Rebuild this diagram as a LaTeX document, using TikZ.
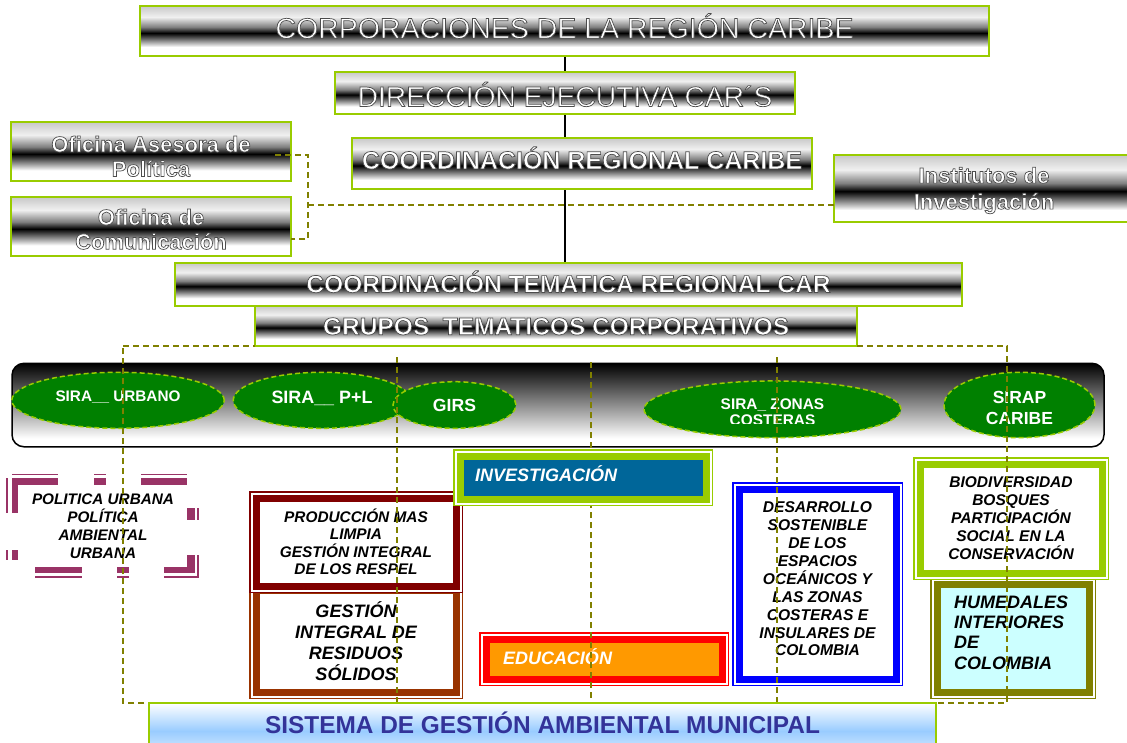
\documentclass[tikz,border=0pt]{standalone}
\usepackage{fontspec}
\setmainfont{Liberation Sans}
\usetikzlibrary{shapes.geometric,calc,backgrounds}
\definecolor{lg}{HTML}{99CC00}
\definecolor{olv}{HTML}{808000}
\definecolor{dred}{HTML}{800000}
\definecolor{brn}{HTML}{993300}
\definecolor{invb}{HTML}{006699}
\definecolor{orng}{HTML}{FF9900}
\definecolor{pnk}{HTML}{993366}
\definecolor{cyl}{HTML}{CCFFFF}
\definecolor{sblue}{HTML}{99CCFF}
\definecolor{sbl2}{HTML}{D6EAFF}
\definecolor{stxt}{HTML}{333399}
\definecolor{eg}{HTML}{008000}
\definecolor{mtop}{HTML}{C8C8C8}
\definecolor{mlight}{HTML}{F0F0F0}
\definecolor{pblue}{HTML}{0000FF}
\definecolor{pred}{HTML}{FF0000}
\pgfdeclareverticalshading{metal}{100bp}{color(0bp)=(white); color(25bp)=(white); color(34bp)=(white); color(48bp)=(black); color(54bp)=(gray); color(64bp)=(mlight); color(75bp)=(mtop); color(100bp)=(mtop)}
\pgfdeclareverticalshading{bandsh}{100bp}{color(0bp)=(white); color(30bp)=(white); color(75bp)=(black); color(100bp)=(black)}
\pgfdeclareverticalshading{sistsh}{100bp}{color(0bp)=(sbl2); color(25bp)=(sbl2); color(47bp)=(sblue); color(75bp)=(white); color(100bp)=(white)}
\newcommand\fs[2]{\fontsize{#1}{#2}\selectfont}
\newcommand\olt[1]{\special{pdf:literal direct 2 Tr 0.7 w 0.3 0.3 0.3 RG}#1\special{pdf:literal direct 0 Tr 1 1 1 RG}}
\begin{document}
\begin{tikzpicture}[x=1pt,y=-1pt,
  mbox/.style={draw=lg, line width=1.8pt, shading=metal, inner sep=0pt, outer sep=0pt, anchor=north west, text=white},
  ttl/.style={text=white, align=center, inner sep=0pt, anchor=center},
  ell/.style={ellipse, fill=eg, draw=lg, line width=1.5pt, dash pattern=on 5pt off 3pt, inner sep=0pt, text=white},
  dframe/.style 2 args={preaction={draw=#1, line width=14pt}, preaction={draw=white, line width=11pt}, draw=#1, line width=7pt, fill=#2, inner sep=0pt, outer sep=0pt, anchor=north west},
  dsh/.style={draw=olv, line width=1.5pt, dash pattern=on 6pt off 4pt},
  vline/.style={draw=black, line width=1.5pt},
]
\useasboundingbox (0,0) rectangle (1127,742);

% ---------- top hierarchy ----------
\node[mbox, minimum width=849pt, minimum height=50pt, font=\fs{28.5}{34}, text height=14.4pt, text depth=0pt] (corp) at (140,6) {\olt{CORPORACIONES DE LA REGIÓN CARIBE}};
\node[mbox, minimum width=460pt, minimum height=42pt, font=\fs{28.2}{34}, text height=26.8pt, text depth=0pt] (dir) at (335,72) {\olt{DIRECCIÓN EJECUTIVA CAR´S}};
\node[mbox, minimum width=460pt, minimum height=51pt, font=\bfseries\fs{25}{30}, text height=10.8pt, text depth=0pt] (crc) at (352,138) {\olt{COORDINACIÓN REGIONAL CARIBE}};

\node[mbox, minimum width=280pt, minimum height=59pt] (ofa) at (11,122) {};
\node[ttl, font=\bfseries\fs{22}{24.5}, yshift=-4.8pt] (ofat) at (ofa.center) {\olt{Oficina Asesora de\\Política}};
\node[mbox, minimum width=280pt, minimum height=59pt] (ofc) at (11,197) {};
\node[ttl, font=\bfseries\fs{22}{24.3}, yshift=-2.7pt] (ofct) at (ofc.center) {\olt{Oficina de\\Comunicación}};
\node[mbox, minimum width=300pt, minimum height=67pt] (ins) at (834,155) {};
\node[ttl, font=\bfseries\fs{22}{26}, yshift=-2pt] (inst) at (ins.center) {\olt{Institutos de\\Investigación}};

\node[mbox, minimum width=787pt, minimum height=43pt, font=\bfseries\fs{24.6}{30}, text height=16.1pt, text depth=0pt] (ctr) at (175,263) {\olt{COORDINACIÓN TEMATICA REGIONAL CAR}};
\node[mbox, minimum width=602pt, minimum height=40pt, font=\bfseries\fs{24.5}{30}, text height=17.6pt, text depth=0pt] (gtc) at (255,306) {\olt{GRUPOS \ TEMATICOS CORPORATIVOS}};

\coordinate (vx) at (565,0);
\begin{scope}[on background layer]
  \draw[vline] (corp.south -| vx) -- (ctr.north -| vx);
\end{scope}

\coordinate (j1) at (308,155);
\coordinate (j2) at (308,205);
\draw[dsh] ($(ofa.east)+(-16,3.5)$) -- (j1) |- ($(ofc.east)+(0,12.5)$);
\draw[dsh] (j2) -- (j2 -| ins.west);

% ---------- band with groups ----------
\node[draw=black, line width=1.5pt, rounded corners=12pt, shading=bandsh, minimum width=1092pt, minimum height=83.5pt, anchor=north west, inner sep=0pt, outer sep=0pt] (band) at (12,363.3) {};

\node[ell, minimum width=212.5pt, minimum height=56pt, font=\bfseries\fs{15.3}{18}, text height=2pt, text depth=0pt] (urb) at (118,400.3) {SIRA\_\_ URBANO};
\node[ell, minimum width=177.5pt, minimum height=56pt, font=\bfseries\fs{17.9}{20}, text height=5.6pt, text depth=0pt] (pl) at (322,400.3) {SIRA\_\_ P+L};
\node[ell, minimum width=123pt, minimum height=46.6pt, font=\bfseries\fs{17.6}{20}, text height=12.4pt, text depth=0pt] (girs) at (454.5,405) {GIRS};
\node[ell, minimum width=257pt, minimum height=56.7pt] (zon) at (772.5,409.3) {};
\begin{scope}
  \clip (640,375) rectangle (905,423.5);
  \node[ttl, font=\bfseries\fs{15.4}{16.8}, yshift=-2.8pt] (zont) at (zon.center) {SIRA\_ ZONAS\\COSTERAS};
\end{scope}
\node[ell, minimum width=151pt, minimum height=65.4pt] (sirap) at (1019.5,405) {};
\node[ttl, font=\bfseries\fs{17.5}{20.5}, yshift=-3pt] (sirapt) at (sirap.center) {SIRAP\\CARIBE};

% ---------- politica urbana frame ----------
\begin{scope}[fill=pnk]
  \fill (12,473.7) rectangle (58,475.3);  \fill (94,473.7) rectangle (106,475.3);  \fill (141,473.7) rectangle (187,475.3);
  \fill (16,478.3) rectangle (58,485);    \fill (94,478.3) rectangle (106,485);    \fill (141,478.3) rectangle (187,485);
  \fill (187,508) rectangle (195,520);    \fill (187,555) rectangle (195,573.3);
  \fill (197.4,508) rectangle (199,520);  \fill (197.4,555) rectangle (199,577.6);
  \fill (35,566.7) rectangle (82,573.3);  \fill (117,566.7) rectangle (129,573.3); \fill (164,566.7) rectangle (195,573.3);
  \fill (35,576) rectangle (82,577.6);    \fill (117,576) rectangle (129,577.6);   \fill (164,576) rectangle (199,577.6);
  \fill (11.7,478) rectangle (18.3,513);  \fill (11.7,550) rectangle (18.3,560);
  \fill (6,478) rectangle (7.6,513);      \fill (6,550) rectangle (7.6,560);
\end{scope}
\node[align=center, inner sep=0pt, font=\bfseries\itshape\fs{15.3}{18}] (pol) at (103,526.3) {POLITICA URBANA\\POLÍTICA\\AMBIENTAL\\URBANA};

% ---------- themes ----------
\node[dframe={brn}{white}, minimum width=200pt, minimum height=102pt, font=\bfseries\itshape\fs{18}{21.2}, align=center] (gest) at (256,590) {GESTIÓN\\INTEGRAL DE\\RESIDUOS\\SÓLIDOS};
\node[dframe={dred}{white}, minimum width=200pt, minimum height=88pt, font=\bfseries\itshape\fs{15.4}{17.5}, align=center] (prod) at (256,498) {PRODUCCIÓN MAS\\LIMPIA\\GESTIÓN INTEGRAL\\DE LOS RESPEL};
\node[dframe={pred}{orng}, minimum width=236pt, minimum height=40pt, font=\bfseries\itshape\fs{18}{21}, text=white, align=left, text width=202pt, inner xsep=17pt, text height=11.5pt, text depth=0pt] (edu) at (486,639) {EDUCACIÓN};
\node[dframe={pblue}{white}, minimum width=157pt, minimum height=190pt] (des) at (739,489) {};
\node[align=center, inner sep=0pt, font=\bfseries\itshape\fs{15.6}{17.9}, yshift=5pt] (dest) at (des.center) {DESARROLLO\\SOSTENIBLE\\DE LOS\\ESPACIOS\\OCEÁNICOS Y\\LAS ZONAS\\COSTERAS E\\INSULARES DE\\COLOMBIA};
\node[dframe={olv}{cyl}, minimum width=152pt, minimum height=108pt] (hum) at (937,584) {};
\node[align=left, anchor=west, inner sep=0pt, font=\bfseries\itshape\fs{18}{20.3}, yshift=5.5pt] (humt) at ($(hum.west)+(17,0)$) {HUMEDALES\\INTERIORES\\DE\\COLOMBIA};
\node[dframe={lg}{white}, minimum width=182pt, minimum height=109pt, font=\bfseries\itshape\fs{15.5}{18}, align=center] (bio) at (920,464) {BIODIVERSIDAD\\BOSQUES\\PARTICIPACIÓN\\SOCIAL EN LA\\CONSERVACIÓN};

% ---------- dashed grouping lines ----------
\coordinate (dTL) at (123,346);
\coordinate (dTR) at (1007,346);
\coordinate (dBL) at (123,703);
\coordinate (dBR) at (1007,703);
\draw[dsh] (dTL) -- (gtc.south west);
\draw[dsh] (gtc.south east) -- (dTR) -- (dBR) -- (dBL) -- (dTL);
\coordinate (v1) at (397,357);
\coordinate (v2) at (591,362);
\coordinate (v3) at (777,357);
\draw[dsh] (v1) -- (v1 |- dBL);
\draw[dsh] (v2) -- (v2 |- dBL);
\draw[dsh] (v3) -- (v3 |- dBL);

\node[dframe={lg}{invb}, minimum width=246pt, minimum height=43pt, font=\bfseries\itshape\fs{18}{21}, text=white, align=left, text width=216pt, inner xsep=15pt, text height=7.9pt, text depth=0pt] (inv) at (460,456) {INVESTIGACIÓN};

\node[draw=lg, line width=1.5pt, shading=sistsh, minimum width=787pt, minimum height=50pt, anchor=north west, inner sep=0pt, outer sep=0pt, text=stxt, font=\bfseries\fs{24.4}{28}, text height=11.6pt, text depth=0pt] (sgam) at (149,703) {SISTEMA DE GESTIÓN AMBIENTAL MUNICIPAL};
\end{tikzpicture}
\end{document}
